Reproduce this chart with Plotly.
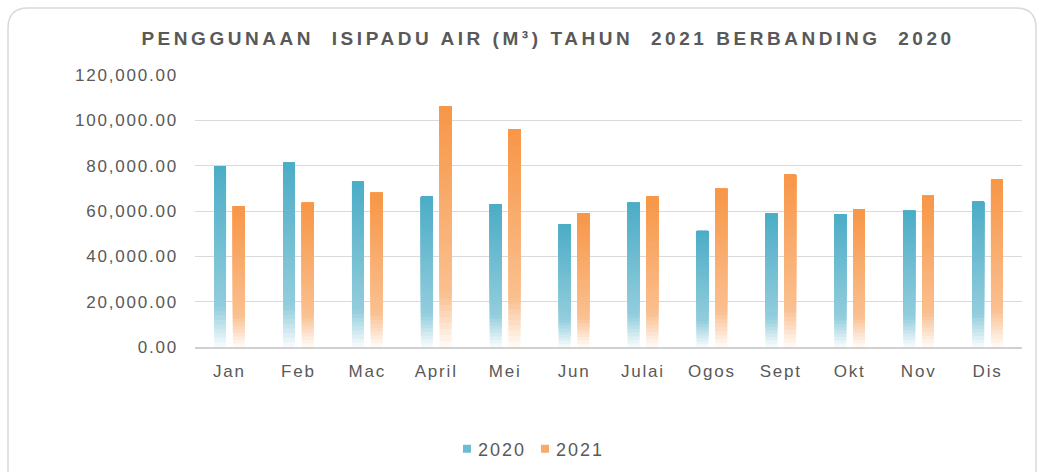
import plotly.graph_objects as go

months = ["Jan", "Feb", "Mac", "April", "Mei", "Jun", "Julai", "Ogos", "Sept", "Okt", "Nov", "Dis"]
usage_2020 = [79800, 81300, 72900, 66300, 63100, 54200, 63600, 51200, 58800, 58400, 60100, 64100]
usage_2021 = [62200, 63600, 68000, 106300, 96000, 59100, 66300, 69800, 76000, 60600, 66700, 73900]
y_ticks = [0, 20000, 40000, 60000, 80000, 100000, 120000]

TITLE = "PENGGUNAAN  ISIPADU AIR (M³) TAHUN  2021 BERBANDING  2020"
TEXT_COLOR = "#595959"
FONT = "Liberation Sans, Arial, sans-serif"

# layout in pixels
W, H = 1039, 472
PLOT_L, PLOT_R, PLOT_T, PLOT_B = 195, 1022, 75, 347
N_STEPS = 40


def _alpha(p):
    """opacity at relative position p (0 = top of bar, 1 = base)"""
    if p <= 0.78:
        return 1.0 - 0.4 * p / 0.78
    return 0.6 - 0.57 * (p - 0.78) / 0.22


def _blend(rgb, a):
    # colour mixed with the white background, kept opaque so slices don't show seams
    return "rgb({},{},{})".format(*[round(255 * (1 - a) + c * a) for c in rgb])


def _gradient_bars(fig, values, rgb, offset, width):
    # palest slice (from the base to the top) first, darker ones painted over it upward
    for k in range(N_STEPS):
        t0 = k / N_STEPS
        t1 = (k + 1) / N_STEPS
        p = 1 - (t0 + t1) / 2
        fig.add_trace(
            go.Bar(
                x=months,
                y=[v * (1 - t0) for v in values],
                base=[v * t0 for v in values],
                offset=offset,
                width=width,
                marker=dict(color=_blend(rgb, _alpha(p)), line=dict(width=0)),
                showlegend=False,
                hoverinfo="skip",
            )
        )


def _px(x):
    return (x - PLOT_L) / (PLOT_R - PLOT_L)


def _py(y):
    return (PLOT_B - y) / (PLOT_B - PLOT_T)


fig = go.Figure()
_gradient_bars(fig, usage_2020, (75, 172, 198), -0.222, 0.172)
_gradient_bars(fig, usage_2021, (247, 150, 70), 0.05, 0.172)

# legend entries
for name, color in [("2020", "#6dbcd2"), ("2021", "#f8aa6b")]:
    fig.add_trace(
        go.Scatter(
            x=[None], y=[None], mode="markers", name=name,
            marker=dict(symbol="square", size=8, color=color),
        )
    )

# rounded card border
left, top, right, bottom, r = 8, 8, 1036, 490, 20
card_path = (
    f"M {_px(left)},{_py(bottom)} L {_px(left)},{_py(top + r)} "
    f"Q {_px(left)},{_py(top)} {_px(left + r)},{_py(top)} "
    f"L {_px(right - r)},{_py(top)} "
    f"Q {_px(right)},{_py(top)} {_px(right)},{_py(top + r)} "
    f"L {_px(right)},{_py(bottom)}"
)

fig.update_layout(
    width=W,
    height=H,
    barmode="overlay",
    paper_bgcolor="white",
    plot_bgcolor="white",
    margin=dict(l=PLOT_L, r=W - PLOT_R, t=PLOT_T, b=H - PLOT_B, pad=0),
    font=dict(family=FONT, size=17, color=TEXT_COLOR),
    title=dict(
        text=TITLE,
        xref="container", yref="container",
        x=548 / W, y=1 - 38 / H,
        xanchor="center", yanchor="middle",
        font=dict(family=FONT, size=19, color=TEXT_COLOR, weight="bold"),
    ),
    xaxis=dict(
        type="category",
        categoryorder="array",
        categoryarray=months,
        range=[-0.5, 11.5],
        showgrid=False,
        showline=True,
        linecolor="#d0d0d0",
        linewidth=1.5,
        ticks="",
        ticklabelstandoff=8,
        tickfont=dict(size=17, color=TEXT_COLOR),
    ),
    yaxis=dict(
        range=[0, 120000],
        tickvals=y_ticks,
        tickformat=",.2f",
        showgrid=True,
        gridcolor="#dadada",
        gridwidth=1.3,
        zeroline=False,
        showline=False,
        ticks="",
        ticklabelstandoff=16,
        tickfont=dict(size=17, color=TEXT_COLOR),
    ),
    showlegend=True,
    legend=dict(
        orientation="h",
        xref="container", yref="container",
        x=525 / W, y=1 - 449 / H,
        xanchor="center", yanchor="middle",
        font=dict(size=18, color=TEXT_COLOR),
        itemwidth=30,
        entrywidth=33,
        traceorder="normal",
    ),
    hovermode=False,
    shapes=[
        dict(
            type="path", path=card_path, xref="paper", yref="paper",
            line=dict(color="#d9d9d9", width=1.5), layer="below",
        )
    ],
)

# page without body margin, Excel-style letter spacing, legend text closer to its swatch
spacing_js = """
document.body.style.margin = '0';
var gd = document.getElementById('{plot_id}');
gd.querySelectorAll('.gtitle').forEach(function(t){ t.style.letterSpacing = '3.55px'; });
gd.querySelectorAll('.xtick text, .ytick text').forEach(function(t){ t.style.letterSpacing = '1.8px'; });
gd.querySelectorAll('.legendtext').forEach(function(t){
    t.style.letterSpacing = '2px';
    t.setAttribute('x', 31);
});
"""

fig.write_html("out.html", post_script=spacing_js, config={"displayModeBar": False})
